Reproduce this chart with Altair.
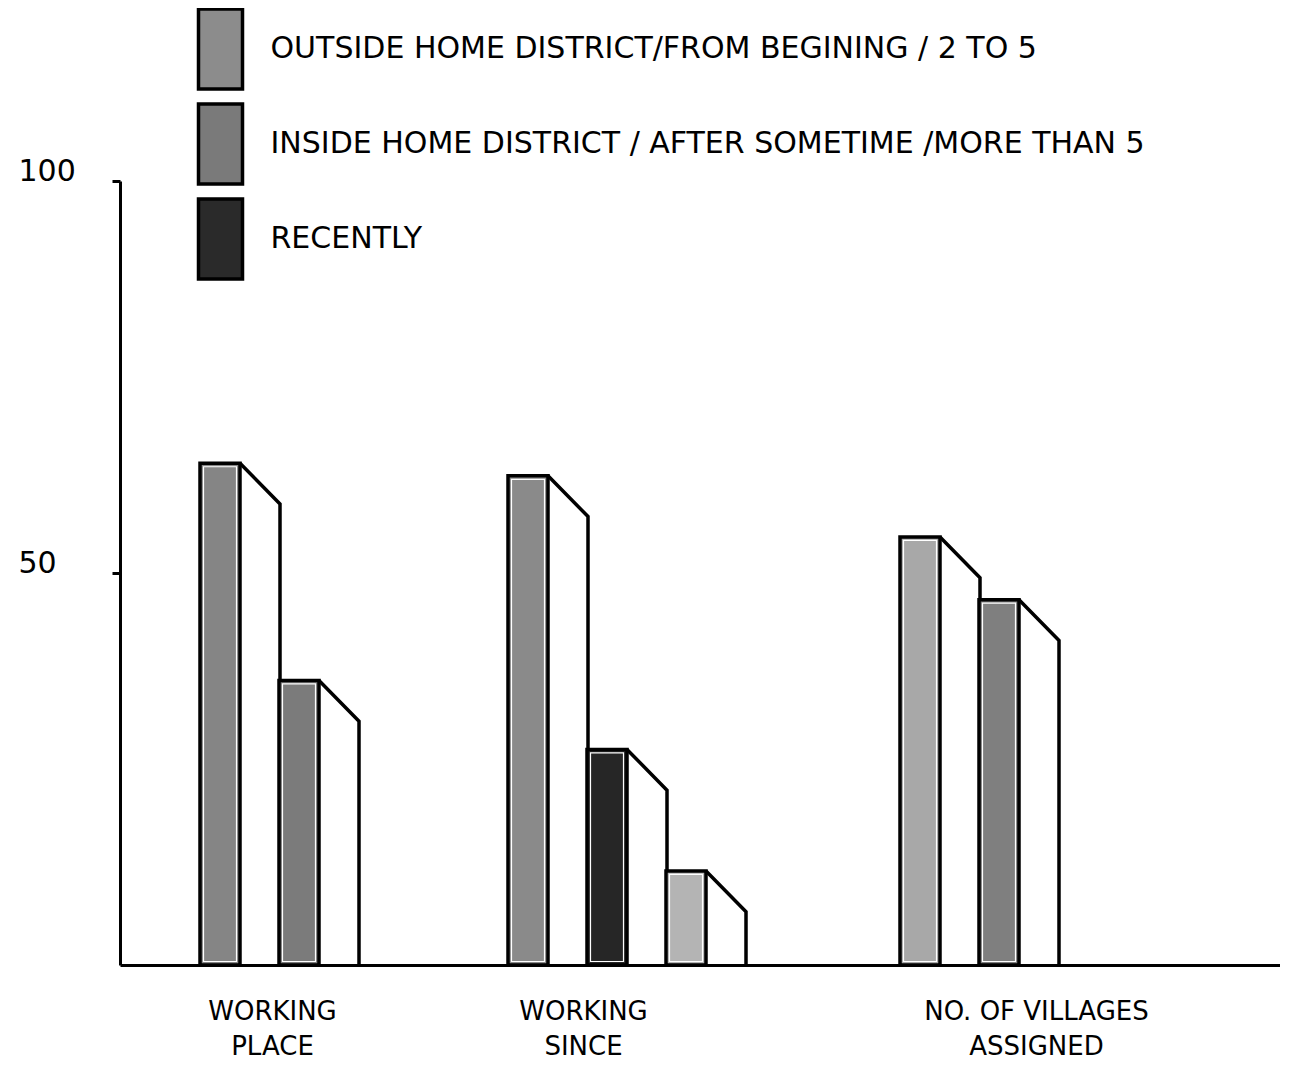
import altair as alt
import pandas as pd

# ---------------- data ----------------
categories = ["Working Place", "Working Since", "No. Of Villages Assigned"]
category_lines = [["Working", "Place"], ["Working", "Since"], ["No. Of Villages", "Assigned"]]
series = [
    "Outside home district/From begining / 2 to 5",
    "Inside home district / After sometime /More than 5",
    "Recently",
]
working_place = [64.0, 36.3]
working_since = [62.4, 27.5, 12.0]
villages_assigned = [54.6, 46.6]
y_tick_values = [50, 100]

# ---------------- style / layout ----------------
bar_shades = [["#858585", "#7b7b7b"], ["#8a8a8a", "#262626", "#b4b4b4"], ["#a8a8a8", "#7f7f7f"]]
legend_shades = ["#8c8c8c", "#7a7a7a", "#2a2a2a"]
GROUP_LEFT = [80, 388, 780]
LABEL_CENTER = [152, 463, 916]
PITCH = 79
BAR_W = 40
SIDE_W = 40
DROP = 5.2
W, H = 1160, 784
FONT = "DejaVu Sans"
LW = 3.5

groups = [working_place, working_since, villages_assigned]
bar_rows, side_rows = [], []
for g, (cat, vals) in enumerate(zip(categories, groups)):
    for i, v in enumerate(vals):
        x0 = GROUP_LEFT[g] + i * PITCH
        x1 = x0 + BAR_W
        bid = f"{cat}-{i}"
        bar_rows.append({"id": bid, "category": cat, "x0": x0, "x1": x1,
                         "value": v, "base": 0, "shade": bar_shades[g][i]})
        side_rows += [
            {"id": bid, "pt": 0, "x": x1, "y": v},
            {"id": bid, "pt": 1, "x": x1 + SIDE_W, "y": v - DROP},
            {"id": bid, "pt": 2, "x": x1 + SIDE_W, "y": 0},
        ]
bars = pd.DataFrame(bar_rows)
sides = pd.DataFrame(side_rows)
legend_df = pd.DataFrame({"series": series, "z": [0] * len(series)})

xscale = alt.Scale(domain=[0, W], nice=False, zero=False)
yscale = alt.Scale(domain=[0, 100], nice=False)

label_expr = " : ".join(
    f"datum.value < {LABEL_CENTER[k] + 150} ? ['{a.upper()}', '{b.upper()}']"
    for k, (a, b) in enumerate(category_lines[:-1])
) + f" : ['{category_lines[-1][0].upper()}', '{category_lines[-1][1].upper()}']"

x_axis = alt.Axis(values=LABEL_CENTER, labelExpr=label_expr, ticks=False, grid=False,
                  domainColor="black", domainWidth=3, labelFont=FONT, labelFontSize=26,
                  labelColor="black", labelPadding=33, labelBaseline="top", labelLimit=500,
                  labelLineHeight=35, labelFlush=False, labelOverlap=False, title=None)
y_axis = alt.Axis(values=y_tick_values, grid=False, domainColor="black", domainWidth=3,
                  tickColor="black", tickWidth=3, tickSize=8, labelAlign="left",
                  labelPadding=94, labelFont=FONT, labelFontSize=30, labelColor="black",
                  labelBaseline="middle", labelOffset=-10, title=None)

side_layer = alt.Chart(sides).mark_line(color="black", strokeWidth=LW, strokeJoin="miter").encode(
    x=alt.X("x:Q", scale=xscale, axis=x_axis),
    y=alt.Y("y:Q", scale=yscale, axis=y_axis),
    detail="id:N",
    order="pt:Q",
)

front_layer = alt.Chart(bars).mark_rect(stroke="black", strokeWidth=LW).encode(
    x=alt.X("x0:Q", scale=xscale, axis=x_axis),
    x2="x1:Q",
    y=alt.Y("value:Q", scale=yscale, axis=y_axis),
    y2="base:Q",
    color=alt.Color("shade:N", scale=None),
)

inner_layer = alt.Chart(bars).mark_rect(filled=False, stroke="white", strokeWidth=1.2,
                                        xOffset=3.5, x2Offset=-3.5, yOffset=3.5, y2Offset=-3.5).encode(
    x=alt.X("x0:Q", scale=xscale, axis=x_axis),
    x2="x1:Q",
    y=alt.Y("value:Q", scale=yscale, axis=y_axis),
    y2="base:Q",
)

legend_layer = alt.Chart(legend_df).mark_rect(stroke="black", strokeWidth=LW).encode(
    x=alt.X("z:Q", scale=xscale, axis=x_axis),
    x2="z:Q",
    y=alt.Y("z:Q", scale=yscale, axis=y_axis),
    y2="z:Q",
    color=alt.Color("series:N", scale=alt.Scale(domain=series, range=legend_shades),
                    legend=alt.Legend(title=None, orient="none", legendX=58.5, legendY=-174,
                                      direction="vertical",
                                      symbolType="M-0.55,-1H0.55V1H-0.55Z", symbolSize=6400,
                                      symbolStrokeColor="black", symbolStrokeWidth=LW,
                                      labelFont=FONT, labelFontSize=30, labelColor="black",
                                      labelLimit=1200, labelOffset=8, rowPadding=1,
                                      padding=0, labelExpr="upper(datum.label)")),
)

chart = alt.layer(side_layer, front_layer, inner_layer, legend_layer).resolve_scale(
    color="independent"
).properties(
    width=W, height=H,
    autosize=alt.AutoSizeParams(type="none"),
    padding={"left": 112, "top": 173, "right": 0, "bottom": 96},
    background="white",
).configure_view(stroke=None)

chart.save("out.html", embed_options={"renderer": "svg", "actions": False})
